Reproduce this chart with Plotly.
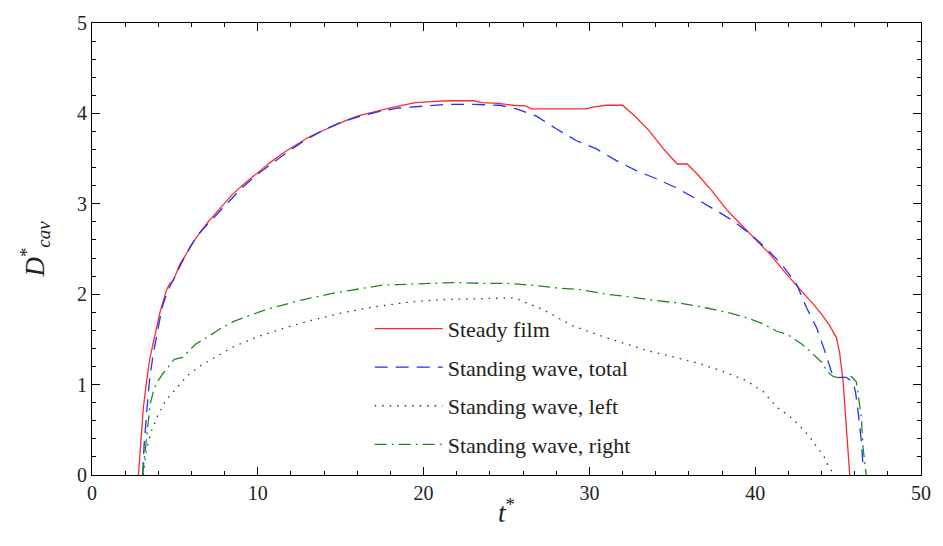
import plotly.graph_objects as go

# Steady film
steady_x = [2.8, 2.95, 3.1, 3.3, 3.5, 3.8, 4.1, 4.5, 4.7, 4.9, 5.3, 5.8, 6.3, 7.0, 7.8, 8.5, 9.3, 10.0,
            10.7, 11.5, 12.3, 13.0, 13.8, 14.5, 15.3, 16.0, 16.8, 17.5, 18.2, 19.0, 19.5, 20.5, 21.5, 22.5,
            23.0, 23.5, 24.5, 25.4, 26.2, 26.5, 28.0, 29.8, 30.2, 31.0, 32.0, 32.8, 33.6, 34.0, 34.5, 35.3, 35.9,
            36.5, 37.4, 38.35, 39.2, 39.95, 40.9, 41.9, 42.7, 43.5, 44.0, 44.5, 44.9, 45.1, 45.3, 45.5, 45.7]
steady_y = [0.0, 0.4, 0.75, 1.05, 1.3, 1.55, 1.8, 2.05, 2.12, 2.15, 2.33, 2.48, 2.63, 2.8, 2.97, 3.11, 3.24, 3.35,
            3.45, 3.56, 3.65, 3.73, 3.8, 3.86, 3.92, 3.97, 4.01, 4.04, 4.07, 4.1, 4.12, 4.13, 4.14, 4.14,
            4.14, 4.12, 4.11, 4.09, 4.08, 4.05, 4.05, 4.05, 4.07, 4.09, 4.09, 3.96, 3.81, 3.72, 3.6, 3.44, 3.44,
            3.33, 3.14, 2.92, 2.76, 2.62, 2.44, 2.22, 2.06, 1.89, 1.78, 1.65, 1.52, 1.34, 1.04, 0.5, 0.0]

# Standing wave, total
total_x = [3.05, 3.15, 3.3, 3.47, 3.7, 4.0, 4.25, 4.6, 5.0, 5.5, 6.0, 6.5, 7.2, 8.0, 9.0, 10.0, 11.0, 12.0,
           13.0, 14.0, 15.0, 16.0, 17.3, 18.5, 20.0, 21.4, 23.0, 24.6, 25.6, 26.8, 28.0, 29.2, 30.4, 31.6,
           32.8, 34.0, 35.2, 36.4, 37.6, 38.6, 39.75, 40.7, 41.6, 42.5, 43.1, 43.7, 44.2, 44.6, 44.9, 45.5,
           45.9, 46.05, 46.2, 46.4, 46.5]
total_y = [0.0, 0.35, 0.7, 1.05, 1.35, 1.62, 1.87, 2.05, 2.2, 2.38, 2.55, 2.68, 2.82, 2.98, 3.17, 3.33, 3.47, 3.6,
           3.72, 3.82, 3.9, 3.96, 4.02, 4.06, 4.08, 4.1, 4.1, 4.09, 4.05, 3.97, 3.83, 3.7, 3.61, 3.48,
           3.37, 3.28, 3.18, 3.06, 2.93, 2.82, 2.66, 2.5, 2.33, 2.11, 1.85, 1.63, 1.37, 1.14, 1.08, 1.08,
           1.02, 0.92, 0.71, 0.38, 0.11]

# Standing wave, left
left_x = [3.1, 3.17, 3.27, 3.57, 3.97, 4.43, 5.07, 5.76, 6.56, 7.85, 8.55, 10.0, 11.5, 13.0, 15.0, 17.0, 19.0,
          21.0, 23.0, 25.0, 25.5, 26.0, 27.2, 28.0, 29.0, 31.0, 33.6, 35.0, 36.5, 38.0, 39.5, 40.5, 41.3,
          41.85, 42.2, 42.6, 42.95, 43.3, 43.6, 43.9, 44.2, 44.4, 44.7]
left_y = [0.0, 0.13, 0.27, 0.48, 0.66, 0.82, 0.95, 1.1, 1.21, 1.34, 1.42, 1.53, 1.62, 1.7, 1.79, 1.86, 1.91,
          1.94, 1.95, 1.96, 1.96, 1.92, 1.83, 1.75, 1.65, 1.52, 1.37, 1.31, 1.24, 1.15, 1.04, 0.92, 0.75,
          0.68, 0.63, 0.56, 0.49, 0.42, 0.34, 0.27, 0.19, 0.1, 0.02]

# Standing wave, right
right_x = [3.05, 3.2, 3.37, 3.51, 3.7, 3.87, 4.27, 4.96, 5.45, 6.26, 7.0, 7.66, 8.55, 9.5, 10.5, 11.5, 12.5,
           13.5, 14.5, 15.5, 16.5, 17.5, 19.0, 20.5, 22.0, 23.5, 25.0, 26.5, 28.0, 29.5, 31.0, 32.5, 34.0,
           35.5, 37.0, 38.5, 39.5, 40.5, 41.3, 41.9, 42.35, 42.8, 43.3, 43.6, 44.1, 44.3, 44.7, 45.1, 45.8,
           46.1, 46.2, 46.4, 46.5, 46.7]
right_y = [0.0, 0.25, 0.49, 0.79, 0.92, 1.01, 1.12, 1.28, 1.3, 1.45, 1.53, 1.61, 1.7, 1.76, 1.83, 1.88, 1.93,
           1.97, 2.01, 2.04, 2.07, 2.1, 2.11, 2.12, 2.13, 2.12, 2.12, 2.1, 2.07, 2.05, 2.0, 1.97, 1.93,
           1.9, 1.85, 1.79, 1.74, 1.67, 1.59, 1.56, 1.5, 1.45, 1.37, 1.32, 1.23, 1.15, 1.09, 1.07, 1.09,
           1.03, 0.9, 0.64, 0.31, 0.0]

x_ticks = [0, 10, 20, 30, 40, 50]
y_ticks = [0, 1, 2, 3, 4, 5]

FONT = "Liberation Serif"

fig = go.Figure()
fig.add_trace(go.Scatter(x=steady_x, y=steady_y, mode="lines", name="Steady film",
                         line=dict(color="#ff2a2a", width=1.3), legendgroup="a"))
fig.add_trace(go.Scatter(x=total_x, y=total_y, mode="lines", name="Standing wave, total",
                         line=dict(color="#1f2fff", width=1.3, dash="13px,8px"), legendgroup="b"))
fig.add_trace(go.Scatter(x=left_x, y=left_y, mode="lines", name="Standing wave, left",
                         line=dict(color="#333333", width=1.3, dash="1.5px,6px"), legendgroup="c"))
fig.add_trace(go.Scatter(x=right_x, y=right_y, mode="lines", name="Standing wave, right",
                         line=dict(color="#1e8a1e", width=1.3, dash="12px,5px,2px,5px"), legendgroup="d"))

axis_common = dict(
    showgrid=False, zeroline=False, showline=True, linecolor="black", linewidth=1.2,
    mirror="ticks", ticks="inside", ticklen=8, tickwidth=1.2, tickcolor="black",
    tickfont=dict(family=FONT, size=20, color="#222"),
)
fig.update_xaxes(range=[0, 50], tickvals=x_ticks,
                 minor=dict(ticks="inside", ticklen=4, dtick=2, tickcolor="black", tickwidth=1),
                 title=dict(text="<i>t</i><sup>*</sup>", font=dict(family=FONT, size=27, color="#222"), standoff=0),
                 **axis_common)
fig.update_yaxes(range=[0, 5], tickvals=y_ticks,
                 minor=dict(ticks="inside", ticklen=4, dtick=0.2, tickcolor="black", tickwidth=1),
                 title=dict(text="<i>D</i><sup>*</sup><sub><i>cav</i></sub>", font=dict(family=FONT, size=27, color="#222"), standoff=24),
                 **axis_common)

fig.update_layout(
    width=943, height=546,
    margin=dict(l=92, r=15, t=20, b=71),
    paper_bgcolor="white", plot_bgcolor="white",
    legend=dict(x=0.335, y=0.37, xanchor="left", yanchor="top",
                font=dict(family=FONT, size=22, color="#222"),
                bgcolor="rgba(0,0,0,0)", tracegroupgap=7, itemwidth=68),
)

fig.write_html("out.html")
